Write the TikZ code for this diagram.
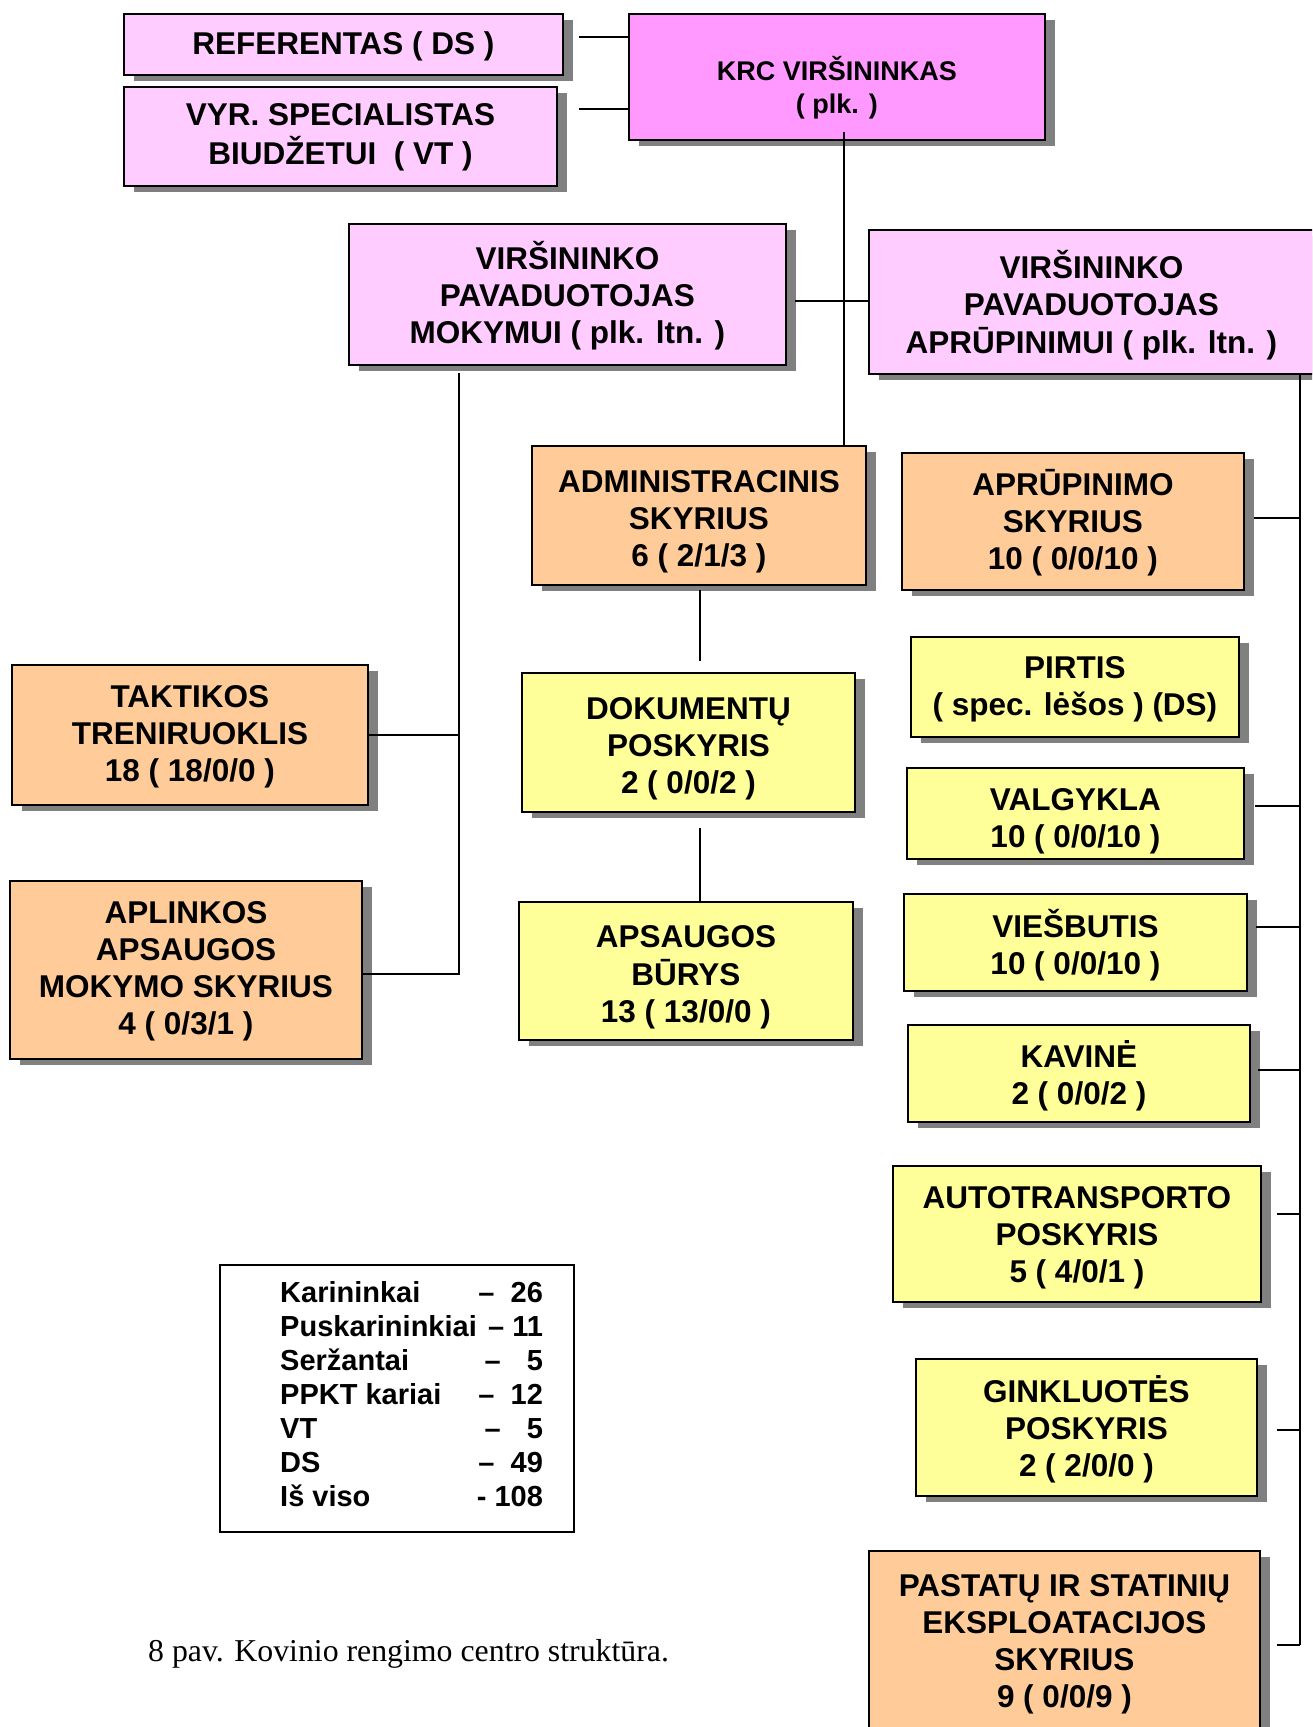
\documentclass[tikz,border=0pt]{standalone}
\usepackage{fontspec}
\setmainfont{Liberation Sans}
\newfontfamily\capfont{Liberation Serif}
\usetikzlibrary{shadows}
\definecolor{pinkL}{HTML}{FFCCFF}
\definecolor{pinkD}{HTML}{FF99FF}
\definecolor{orangeB}{HTML}{FFCC99}
\definecolor{yellowB}{HTML}{FFFF99}
\definecolor{shadowG}{HTML}{808080}
% box text: lowered by #1, lines stacked
\newcommand{\bx}[2][0pt]{\raisebox{-#1}[\height][\depth]{\begin{tabular}{@{}c@{}}#2\end{tabular}}}
\tikzset{
  box/.style={draw, line width=1.8pt, align=center, anchor=north west, inner sep=0pt,
    font=\bfseries\fontsize{31.5}{37}\selectfont,
    drop shadow={shadow xshift=10pt, shadow yshift=-6pt, fill=shadowG, opacity=1}},
  pinkbox/.style={box, fill=pinkL},
  krcbox/.style={box, fill=pinkD, font=\bfseries\fontsize{27}{33}\selectfont},
  orbox/.style={box, fill=orangeB},
  yebox/.style={box, fill=yellowB},
  conn/.style={line width=1.7pt}
}
\begin{document}
\begin{tikzpicture}[x=1pt,y=-1pt]
\useasboundingbox (0,0) rectangle (1312,1727);
\fill[white] (0,0) rectangle (1312,1727);
\clip (0,0) rectangle (1312,1727);

% top
\node[pinkbox, minimum width=439pt, minimum height=61pt] (ref) at (123,13) {\bx[2.2pt]{REFERENTAS ( DS )}};
\node[pinkbox, minimum width=433pt, minimum height=99pt] (vyr) at (123,86) {\bx[1pt]{VYR. SPECIALISTAS\\BIUDŽETUI \ ( VT )}};
\node[krcbox, minimum width=416pt, minimum height=126pt] (krc) at (628,13) {\bx[13pt]{KRC VIRŠININKAS\\( plk. )}};

% deputies
\node[pinkbox, minimum width=437pt, minimum height=141pt] (mok) at (348,223) {\bx[3.3pt]{VIRŠININKO\\PAVADUOTOJAS\\MOKYMUI ( plk. ltn. )}};
\node[pinkbox, minimum width=445pt, minimum height=144pt] (apr) at (868,229) {\bx[5.5pt]{VIRŠININKO\\PAVADUOTOJAS\\APRŪPINIMUI ( plk. ltn. )}};

% middle column
\node[orbox, minimum width=334pt, minimum height=139pt] (adm) at (531,445) {\bx[6.5pt]{ADMINISTRACINIS\\SKYRIUS\\6 ( 2/1/3 )}};
\node[yebox, minimum width=333pt, minimum height=139pt] (dok) at (521,672) {\bx[7pt]{DOKUMENTŲ\\POSKYRIS\\2 ( 0/0/2 )}};
\node[yebox, minimum width=334pt, minimum height=138pt] (aps) at (518,901) {\bx[6.6pt]{APSAUGOS\\BŪRYS\\13 ( 13/0/0 )}};

% left column
\node[orbox, minimum width=356pt, minimum height=140pt] (tak) at (11,664) {\bx[2.4pt]{TAKTIKOS\\TRENIRUOKLIS\\18 ( 18/0/0 )}};
\node[orbox, minimum width=352pt, minimum height=178pt] (apl) at (9,880) {\bx[1.8pt]{APLINKOS\\APSAUGOS\\MOKYMO SKYRIUS\\4 ( 0/3/1 )}};

% right column
\node[orbox, minimum width=342pt, minimum height=137pt] (aprs) at (901,452) {\bx[3.3pt]{APRŪPINIMO\\SKYRIUS\\10 ( 0/0/10 )}};
\node[yebox, minimum width=328pt, minimum height=100pt] (pir) at (910,636) {\bx[2.2pt]{PIRTIS\\( spec. lėšos ) (DS)}};
\node[yebox, minimum width=337pt, minimum height=91pt] (val) at (906,767) {\bx[7.7pt]{VALGYKLA\\10 ( 0/0/10 )}};
\node[yebox, minimum width=343pt, minimum height=97pt] (vie) at (903,893) {\bx[4.9pt]{VIEŠBUTIS\\10 ( 0/0/10 )}};
\node[yebox, minimum width=342pt, minimum height=97pt] (kav) at (907,1024) {\bx[4.4pt]{KAVINĖ\\2 ( 0/0/2 )}};
\node[yebox, minimum width=368pt, minimum height=136pt] (aut) at (892,1165) {\bx[4.4pt]{AUTOTRANSPORTO\\POSKYRIS\\5 ( 4/0/1 )}};
\node[yebox, minimum width=341pt, minimum height=137pt] (gin) at (915,1358) {\bx[3.8pt]{GINKLUOTĖS\\POSKYRIS\\2 ( 2/0/0 )}};
\node[orbox, minimum width=391pt, minimum height=181pt] (pas) at (868,1550) {\bx[3.3pt]{PASTATŲ IR STATINIŲ\\EKSPLOATACIJOS\\SKYRIUS\\9 ( 0/0/9 )}};

% connectors top
\coordinate (r1) at (579,37);
\coordinate (r2) at (579,109);
\draw[conn] (r1) -- (r1 -| krc.west);
\draw[conn] (r2) -- (r2 -| krc.west);
\coordinate (kv) at (844,132);
\draw[conn] (kv) -- (kv |- adm.north);
\coordinate (d1) at (795,301);
\draw[conn] (d1) -- (d1 -| apr.west);

% left connectors
\coordinate (lv) at (459,373);
\draw[conn] (lv) -- ([yshift=-4pt]lv |- apl.east) -- ([yshift=-4pt]apl.east);
\draw[conn] (tak.east) -- (tak.east -| lv);

% middle connectors
\coordinate (mv) at (700,590);
\draw[conn] (mv) -- ([yshift=11pt]mv |- dok.north);
\coordinate (mv2) at (700,828);
\draw[conn] (mv2) -- (mv2 |- aps.north);

% right connectors
\coordinate (rv) at (1300,373);
\coordinate (rvb) at (1300,1645);
\draw[conn] (rv) -- (rvb);
\draw[conn] ([xshift=9pt,yshift=3.5pt]aprs.east) -- ([yshift=3.5pt]aprs.east -| rv);
\draw[conn] ([xshift=10pt,yshift=7.5pt]val.east) -- ([yshift=7.5pt]val.east -| rv);
\draw[conn] ([xshift=8pt,yshift=15.5pt]vie.east) -- ([yshift=15.5pt]vie.east -| rv);
\draw[conn] ([xshift=7pt,yshift=3.5pt]kav.east) -- ([yshift=3.5pt]kav.east -| rv);
\draw[conn] ([xshift=15pt,yshift=20pt]aut.east) -- ([yshift=20pt]aut.east -| rv);
\draw[conn] ([xshift=19pt,yshift=-2.5pt]gin.east) -- ([yshift=-2.5pt]gin.east -| rv);
\draw[conn] ([xshift=16pt]pas.east |- rvb) -- (rvb);

% legend
\node[draw, line width=1.5pt, minimum width=354pt, minimum height=267pt, anchor=north west, inner sep=0pt] (legend) at (219,1264) {};
\node[anchor=west, inner sep=0pt, font=\bfseries\fontsize{29}{34}\selectfont] (legtxt) at (280,1397.3)
{\begin{tabular}{@{}l@{}r@{}}
Karininkai & – \ 26\\
Puskarininkiai & – 11\\
Seržantai & –\hspace{26pt}5\\
PPKT kariai & – \ 12\\
VT & –\hspace{26pt}5\\
DS & – \ 49\\
Iš viso & - 108
\end{tabular}};

% caption
\node[anchor=base west, inner sep=0pt, font=\capfont\fontsize{31.8}{38}\selectfont] (cap) at (148,1661) {8 pav. Kovinio rengimo centro struktūra.};
\end{tikzpicture}
\end{document}
